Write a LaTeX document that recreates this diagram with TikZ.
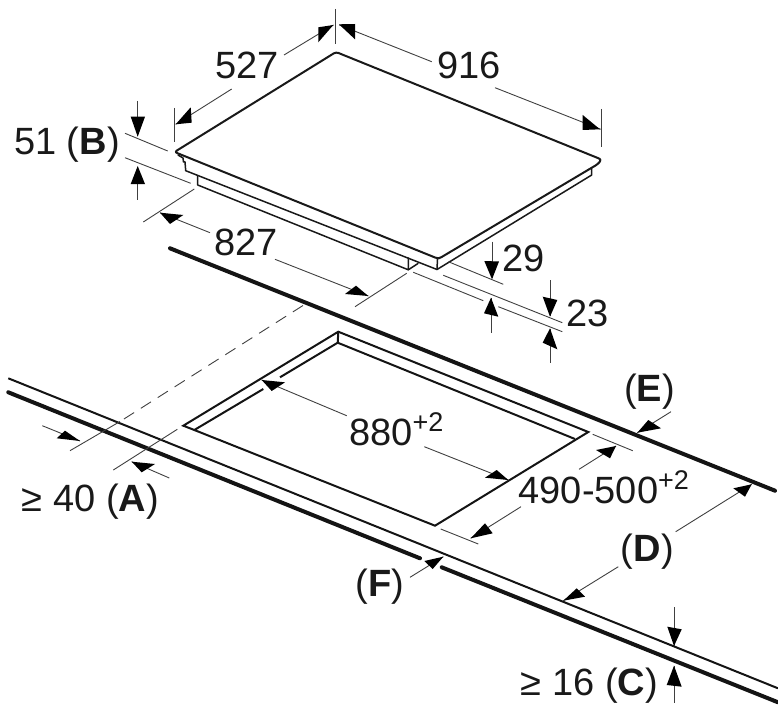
\documentclass[tikz,border=0pt]{standalone}
\usepackage{fontspec}
\setmainfont{Liberation Sans}
\usepackage{tikz}
\usetikzlibrary{positioning}

\tikzset{
    lbl/.style={anchor=base west, inner sep=0pt, font=\fontsize{38}{38}\selectfont, text=black!90},
    outline/.style={line width=2pt, line join=round, line cap=round, black!90},
    counter/.style={line width=4pt, line cap=round, black!92},
    edge/.style={line width=2pt, line join=miter, black!92},
    dimline/.style={line width=0.9pt, black!75},
    dimhead/.style={fill=black, draw=none}
}
\newcommand{\plus}{{\fontsize{27}{27}\selectfont\raisebox{14pt}{+2}}}
\newcommand{\head}[3]{\fill[dimhead] #1 -- #2 -- #3 -- cycle;}

\begin{document}
\begin{tikzpicture}[x=1pt, y=-1pt]
    \useasboundingbox (0,0) rectangle (778,722);

    % Hob
    \draw[outline, rounded corners=2.5pt] (437.5,258.5) -- (174.5,152) -- (336,52) -- (601.5,159.5) -- (598,164) -- (440,258) -- cycle;
    \draw[outline, line width=1.5pt] (437.5,258.5) -- (437,269.5) -- (591.7,175) -- (591.7,168);
    \draw[outline, line width=1.5pt] (178,155) -- (183,158) -- (183.5,162) -- (185,162) -- (185.7,170.7) -- (437,269.5);
    \draw[outline, line width=1.5pt] (197.7,175.5) -- (197.7,185) -- (408.3,269.8) -- (408.3,258);
    \draw[outline, line width=1.5pt] (408.3,269.8) -- (418,263.5);

    % Worktop
    \draw[counter] (170,248.3) -- (775,490.7);
    \draw[edge] (8.3,378.3) -- (778,688.3);
    \draw[counter] (8.3,392.3) -- (420,558.3);
    \draw[counter] (441.7,567.3) -- (778,702.3);

    % Cut-out
    \draw[edge] (263.3,389) -- (194.3,430) -- (183.3,425.7) -- (338.3,331.7) -- (588.3,432) -- (435,525.7) -- (194.3,430);
    \draw[edge] (280,377.3) -- (337.7,342.7) -- (575,439);
    \draw[edge] (338.3,331.7) -- (337.7,342.7);

    % Extension lines
    \draw[dimline] (335.7,9) -- (335.7,44);
    \draw[dimline] (174,108) -- (174,142);
    \draw[dimline] (601,109) -- (601,146.7);
    \draw[dimline] (125,133.3) -- (167.7,151);
    \draw[dimline] (125,157.7) -- (190.7,183.3);
    \draw[dimline] (143.3,222) -- (194.3,189);
    \draw[dimline] (355,306.7) -- (406.7,273.3);
    \draw[dimline] (448.3,261.7) -- (503.3,284.3);
    \draw[dimline] (413.3,272.3) -- (483.3,300.7);
    \draw[dimline] (443.3,275.3) -- (562.3,322.7);
    \draw[dimline] (498.3,306.7) -- (562.3,331.7);
    \draw[dimline, dash pattern=on 12pt off 8pt] (303,305.5) -- (120,421.5);
    \draw[dimline] (120,421.5) -- (70,450.7);
    \draw[dimline] (113.3,470) -- (177.3,429.3);
    \draw[dimline] (592.7,434.3) -- (632.7,450.7);
    \draw[dimline] (440.7,529) -- (478.3,544);

    % Dimension lines
    \draw[dimline] (284,55) -- (333.5,25);
    \draw[dimline] (231.7,89) -- (175.7,124.3);
    \draw[dimline] (431.7,61.7) -- (339.3,25);
    \draw[dimline] (495,87.7) -- (600.7,129.3);
    \draw[dimline] (137.7,101) -- (137.7,136);
    \draw[dimline] (137.7,167) -- (137.7,200);
    \draw[dimline] (210,232.7) -- (160,212.7);
    \draw[dimline] (275,259.3) -- (368.3,296);
    \draw[dimline] (492,241.7) -- (492,278);
    \draw[dimline] (491,298) -- (491,332.7);
    \draw[dimline] (550,280) -- (550,316);
    \draw[dimline] (550,329) -- (550,363.3);
    \draw[dimline] (42.3,425.7) -- (80,441);
    \draw[dimline] (169.3,478) -- (131.7,461.7);
    \draw[dimline] (346.7,415.7) -- (261.7,380);
    \draw[dimline] (424.3,446.7) -- (508.3,480);
    \draw[dimline] (579,469.3) -- (616,446);
    \draw[dimline] (521,506.7) -- (470.7,538.3);
    \draw[dimline] (671,411.7) -- (637.3,432.7);
    \draw[dimline] (675.7,531.7) -- (751.7,484.3);
    \draw[dimline] (618.3,566.7) -- (563.3,600.7);
    \draw[dimline] (410,577.3) -- (443.3,556.7);
    \draw[dimline] (674,607.3) -- (674,646);
    \draw[dimline] (674,666) -- (674,703.3);

    % Arrowheads
    \head{(333.3,25)}{(318.3,27.3)}{(318.3,42.3)}
    \head{(339,24.3)}{(355,24)}{(355,39.3)}
    \head{(175.7,124.3)}{(190.7,107.3)}{(191.7,122.7)}
    \head{(600,129.3)}{(582.7,115)}{(582.7,130)}
    \head{(137.7,136.7)}{(130.7,116.7)}{(145,116.7)}
    \head{(137.7,166)}{(130.7,184)}{(145,184)}
    \head{(160,212.7)}{(183.3,215)}{(170,224)}
    \head{(368.3,296)}{(356,285.7)}{(345,294)}
    \head{(492,279.3)}{(484.3,261)}{(499,261.5)}
    \head{(491,297.7)}{(484,313.3)}{(498.3,316.7)}
    \head{(550,316.7)}{(542.7,296.7)}{(557.3,300)}
    \head{(550,328.3)}{(542.7,342.7)}{(557.3,349.3)}
    \head{(80,441)}{(65,430.7)}{(56.7,438.3)}
    \head{(131.7,461.7)}{(155,464)}{(141.7,472.3)}
    \head{(261.7,380)}{(285,382.3)}{(271.7,391)}
    \head{(508.3,480)}{(496.7,470)}{(485,477.7)}
    \head{(616,446)}{(596,450)}{(610,458.3)}
    \head{(470.7,538.3)}{(485,523.3)}{(492.7,533.3)}
    \head{(637.3,432.7)}{(648.3,420)}{(661,428.3)}
    \head{(751.7,484.3)}{(733.3,488.3)}{(745,496.7)}
    \head{(563.3,600.7)}{(576.7,588.3)}{(585,596.7)}
    \head{(443.3,556.7)}{(424.3,561)}{(432.7,569)}
    \head{(674,646)}{(667.3,626.7)}{(681.7,629.3)}
    \head{(674,665.7)}{(666.7,685)}{(681.7,686.7)}

    % Labels
    \node[lbl] (depth) at (215,78.7) {527};
    \node[lbl] (width) at (437,78.7) {916};
    \node[lbl] (dimb) at (14,155) {51 (\textbf{B})};
    \node[lbl] (inner) at (214,255) {827};
    \node[lbl] (glass) at (502.5,271.7) {29};
    \node[lbl] (body) at (566.5,326.7) {23};
    \node[lbl] (cutw) at (349,445) {880\plus};
    \node[lbl] (cutd) at (518.5,503.3) {490-500\plus};
    \node[lbl] (dime) at (624,401.7) {(\textbf{E})};
    \node[lbl] (dimd) at (620.7,561.7) {(\textbf{D})};
    \node[lbl] (dimf) at (355.7,596.7) {(\textbf{F})};
    \node[lbl] (dima) at (21.7,511.7) {≥ 40 (\textbf{A})};
    \node[lbl] (dimc) at (520.7,695) {≥ 16 (\textbf{C})};
\end{tikzpicture}
\end{document}
